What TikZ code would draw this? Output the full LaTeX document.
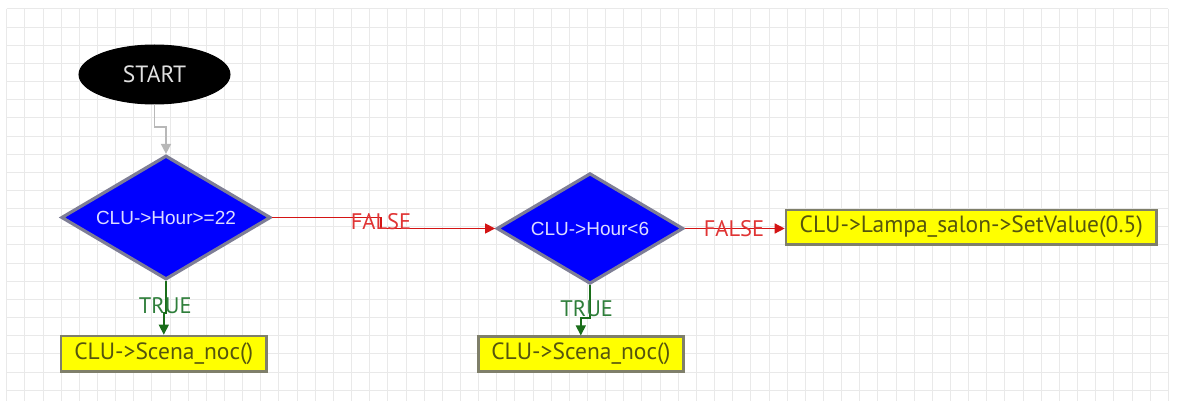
\documentclass[tikz,border=0pt]{standalone}
\usepackage{fontspec}
\usetikzlibrary{shapes.geometric,arrows.meta}
\newfontfamily\boxfont{PT Sans}
\newfontfamily\diafont{Liberation Sans}
\definecolor{gridc}{HTML}{E9E9E9}
\definecolor{diafill}{HTML}{0000FF}
\definecolor{diaborder}{HTML}{7E7E96}
\definecolor{diatext}{HTML}{DCDCFF}
\definecolor{boxfill}{HTML}{FFFF00}
\definecolor{boxborder}{HTML}{7F7F6A}
\definecolor{boxtext}{HTML}{55550E}
\definecolor{startext}{HTML}{E0E0E0}
\definecolor{linegray}{HTML}{B8B8B8}
\definecolor{linered}{HTML}{D41414}
\definecolor{labelred}{HTML}{E03434}
\definecolor{linegreen}{HTML}{1A6E1A}
\definecolor{labelgreen}{HTML}{2E7E3A}
\tikzset{
  gridline/.style={draw=gridc, line width=1pt},
  startnode/.style={ellipse, fill=black, draw=black, line width=1pt, minimum width=151, minimum height=59, inner sep=0pt, text=startext, font=\boxfont\fontsize{23.5}{26}\selectfont},
  decision/.style={diamond, aspect=2, fill=diafill, draw=diaborder, line width=3.2pt, inner sep=0pt, text=diatext, font=\diafont\fontsize{19}{22}\selectfont},
  action/.style={rectangle, fill=boxfill, draw=boxborder, line width=2.5pt, inner sep=0pt, text=boxtext, font=\boxfont\fontsize{23.5}{26}\selectfont},
  flowgray/.style={draw=linegray, line width=1.6pt, -{Triangle[length=10pt,width=10pt]}},
  flowred/.style={draw=linered, line width=1.4pt, -{Triangle[length=10pt,width=10pt]}},
  flowgreen/.style={draw=linegreen, line width=1.4pt, -{Triangle[length=10pt,width=10pt]}},
  lblred/.style={text=labelred, inner sep=0pt, font=\boxfont\fontsize{22.5}{24}\selectfont},
  lblgreen/.style={text=labelgreen, inner sep=0pt, font=\boxfont\fontsize{22.5}{24}\selectfont},
}
\begin{document}
\begin{tikzpicture}[x=1pt,y=-1pt]
\useasboundingbox (0,0) rectangle (1180,401);
\fill[white] (0,0) rectangle (1180,401);
% grid
\foreach \i in {0,...,64} \draw[gridline] (6.7+18.15*\i,9) -- (6.7+18.15*\i,401);
\foreach \j in {0,...,21} \draw[gridline] (6.7,9+18.15*\j) -- (1168.3,9+18.15*\j);
% nodes
\node[startnode] (start) at (154.5,74.5) {START};
\node[decision, minimum width=209.4, minimum height=124] (d1) at (166,217.5) {CLU->Hour>=22};
\node[decision, minimum width=186.6, minimum height=110.6] (d2) at (590,228.5) {CLU->Hour<6};
\node[action, minimum width=205.7, minimum height=35.7] (a1) at (163.8,353.8) {CLU->Scena\_noc()};
\node[action, minimum width=205, minimum height=35] (a2) at (580.8,354.2) {CLU->Scena\_noc()};
\node[action, minimum width=370.7, minimum height=34.3] (a3) at (971.3,227.2) {CLU->Lampa\_salon->SetValue(0.5)};
% helper coordinates
\coordinate (s1) at (0,127);
\coordinate (f1) at (381,0);
\coordinate (t1) at (0,313);
\coordinate (t2) at (0,318);
% connectors
\draw[flowgray] (start.south) -- (start.south |- s1) -- (s1 -| d1.north) -- (d1.north);
\draw[flowred] (d1.east) -- (d1.east -| f1) -- (f1 |- d2.west) -- (d2.west);
\draw[flowred] (d2.east) -- (d2.east -| a3.west);
\draw[flowgreen] (d1.south) -- (d1.south |- t1) -- (t1 -| a1.north) -- (a1.north);
\draw[flowgreen] (d2.south) -- (d2.south |- t2) -- (t2 -| a2.north) -- (a2.north);
% labels
\node[lblred] (l1) at (381,222) {FALSE};
\node[lblred] (l2) at (734,229) {FALSE};
\node[lblgreen] (l3) at (165.3,306) {TRUE};
\node[lblgreen] (l4) at (586.7,308.3) {TRUE};
\end{tikzpicture}
\end{document}
